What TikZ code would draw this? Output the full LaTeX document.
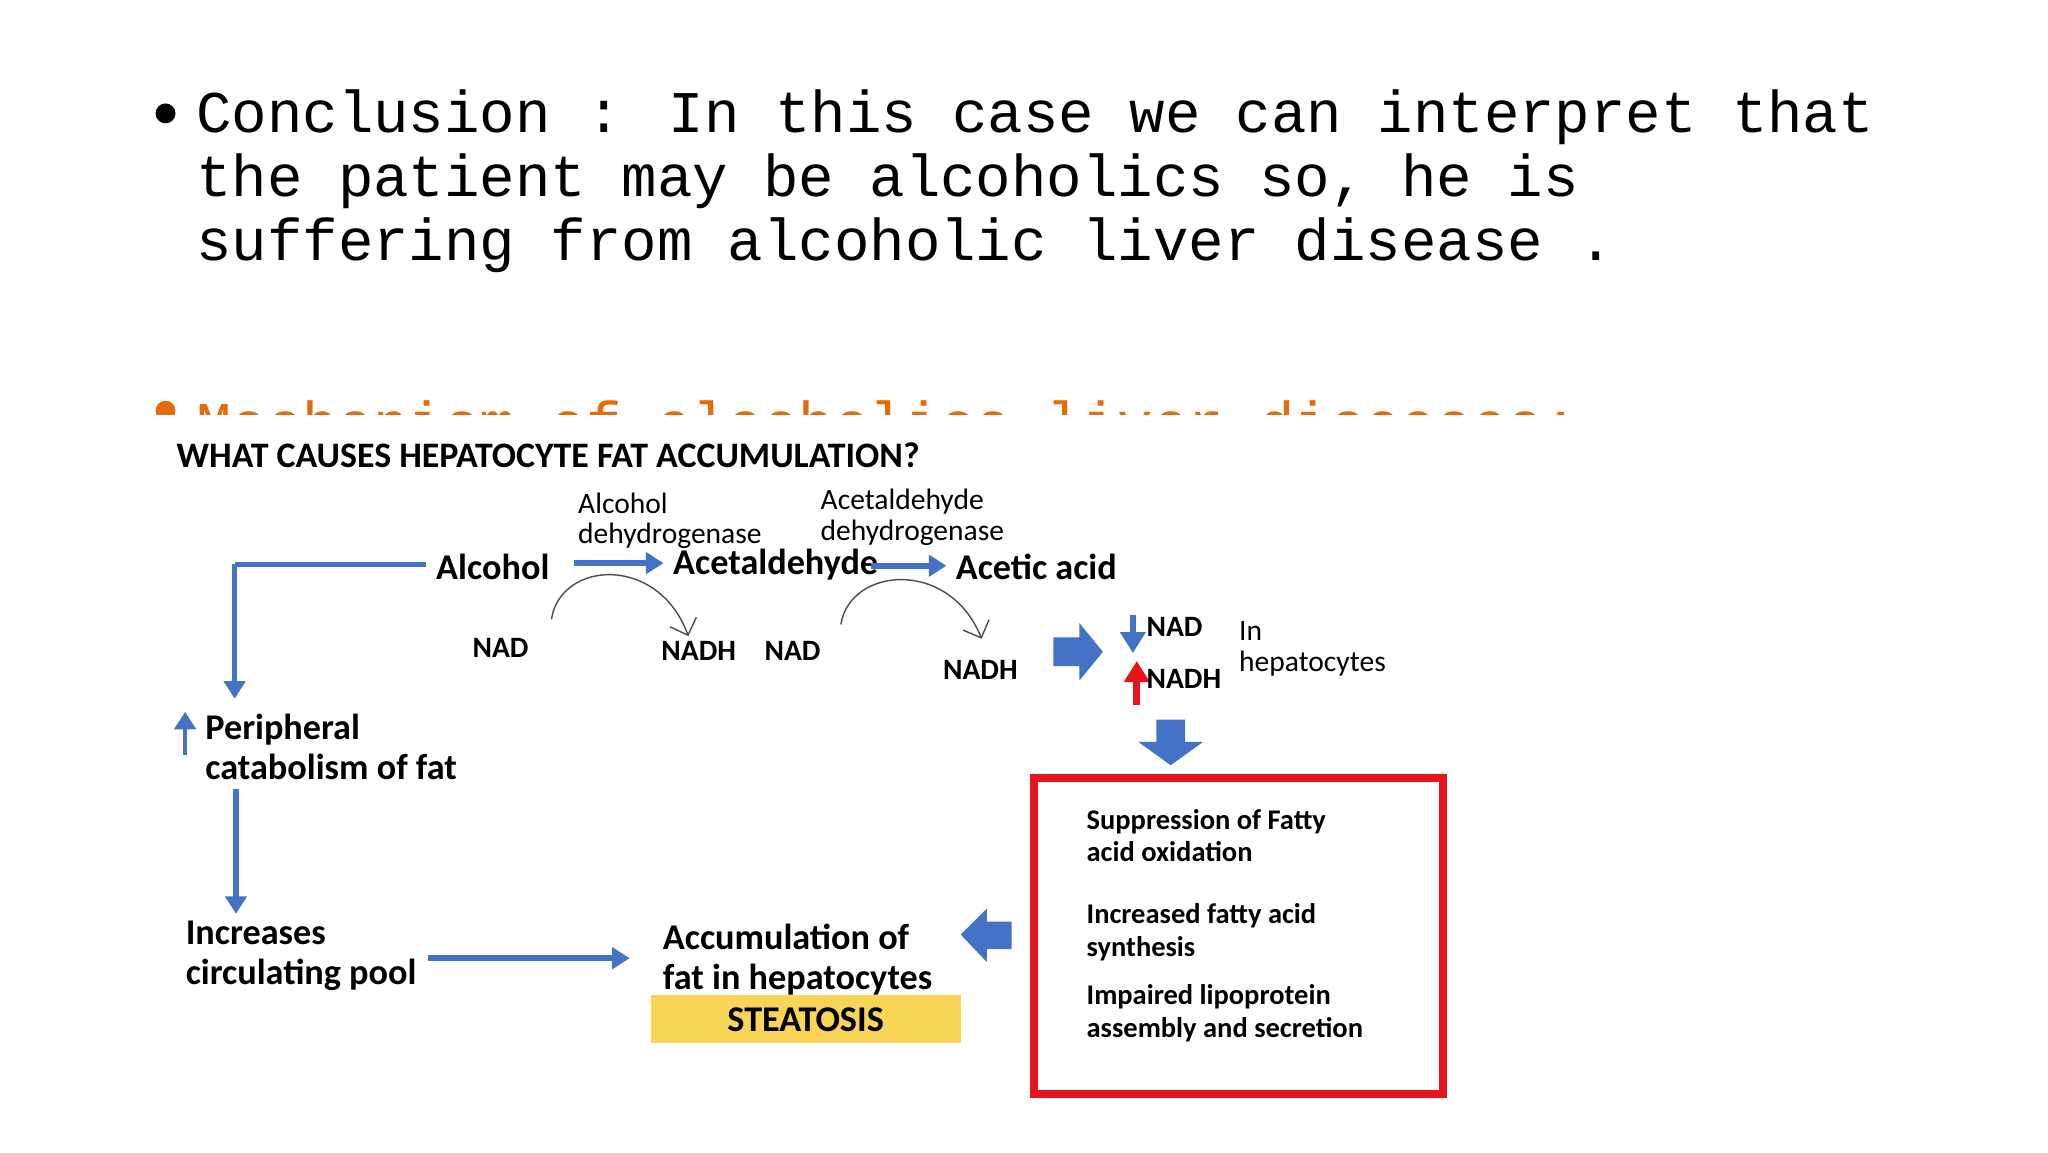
\documentclass[tikz,border=0pt]{standalone}
\usepackage{fontspec}
\setmainfont{Carlito}
\newfontfamily\monof{Liberation Mono}
\usetikzlibrary{arrows.meta,shapes.arrows}
\definecolor{bl}{HTML}{4472C4}
\definecolor{org}{HTML}{E46C0A}
\definecolor{yel}{HTML}{F8D557}
\definecolor{rd}{HTML}{E8141B}
\begin{document}
\begin{tikzpicture}[x=0.013036cm,y=-0.013036cm,
  mono/.style={font=\monof\fontsize{16.8}{20}\selectfont,anchor=west,inner sep=0},
  bt/.style={font=\bfseries\fontsize{10.3}{12}\selectfont,inner sep=0},
  bt2/.style={font=\bfseries\fontsize{10.3}{11.3}\selectfont,inner sep=0,anchor=west,align=left},
  st/.style={font=\fontsize{8.4}{10}\selectfont,inner sep=0,anchor=west},
  sb/.style={font=\bfseries\fontsize{8.4}{10}\selectfont,inner sep=0},
  bx/.style={font=\bfseries\fontsize{8.1}{9.3}\selectfont,inner sep=0,anchor=west,align=left},
  bline/.style={draw=bl,line width=1.6pt},
  barr/.style={bline,-{Triangle[length=5pt,width=6pt]}},
  thin/.style={draw=black!70,line width=0.4pt,-{Straight Barb[length=4pt]}},
  blk/.style={fill=bl,draw=none}]
\useasboundingbox (0,0) rectangle (1571,883.7);
\fill[white] (0,0) rectangle (1571,883.7);
% header
\node[circle,fill=black,inner sep=2pt] (b1) at (127,87) {};
\node[mono] (c1) at (150,90) {Conclusion : In this case we can interpret that};
\node[mono] (c2) at (150,139) {the patient may be alcoholics so, he is};
\node[mono] (c3) at (150,188) {suffering from alcoholic liver disease .};
\begin{scope}
\clip (0,250) rectangle (1571,318);
\node[circle,fill=org,inner sep=2pt] (b2) at (127,315) {};
\node[mono,text=org] (mech) at (150,324) {Mechanism of alcoholics liver diseases:};
\end{scope}
% title
\node[font=\bfseries\fontsize{10.2}{12}\selectfont,inner sep=0,anchor=west] (ttl) at (135,349) {WHAT CAUSES HEPATOCYTE FAT ACCUMULATION?};
% top row
\node[bt] (alc) at (378,435) {Alcohol};
\node[bt] (ald) at (595,433) {Acetaldehyde};
\node[bt] (aca) at (795,435) {Acetic acid};
\node[st] (e1a) at (443,386) {Alcohol};
\node[st] (e1b) at (443,411) {dehydrogenase};
\node[st] (e2a) at (629,385) {Acetaldehyde};
\node[st] (e2b) at (629,409) {dehydrogenase};
\coordinate (a1s) at (440,432); \coordinate (a1e) at (509,432);
\coordinate (a2s) at (668,434); \coordinate (a2e) at (726,434);
\draw[barr] (a1s) -- (a1e);
\draw[barr] (a2s) -- (a2e);
\node[sb] (nad1) at (384,497) {NAD};
\node[sb] (nadh1) at (536,499) {NADH};
\node[sb] (nad2) at (608,499) {NAD};
\node[sb] (nadh2) at (752,514) {NADH};
\coordinate (k1s) at (423,475); \coordinate (k1e) at (528,488);
\coordinate (k2s) at (645,479); \coordinate (k2e) at (753,490);
\draw[thin] (k1s) .. controls (430,430) and (505,425) .. (k1e);
\draw[thin] (k2s) .. controls (652,435) and (728,428) .. (k2e);
% block arrow right
\fill[blk] (808,489) -- (828,489) -- (828,478) -- (846,500) -- (828,522) -- (828,511) -- (808,511) -- cycle;
\coordinate (nd1) at (869,472); \coordinate (nd2) at (869,501);
\draw[draw=bl,line width=1.8pt,-{Triangle[length=6pt,width=7pt]}] (nd1) -- (nd2);
\coordinate (nu1) at (872,541); \coordinate (nu2) at (872,507);
\draw[draw=rd,line width=2pt,-{Triangle[length=6pt,width=7pt]}] (nu1) -- (nu2);
\node[sb,anchor=west] (nadr) at (879,481) {NAD};
\node[sb,anchor=west] (nadhr) at (879,521) {NADH};
\node[st] (in) at (950,484) {In};
\node[st] (hep) at (950,509) {hepatocytes};
% block arrow down
\fill[blk] (887,552) -- (909,552) -- (909,569) -- (923,569) -- (898,587) -- (873,569) -- (887,569) -- cycle;
% red box
\draw[draw=rd,line width=2.3pt] (793,597) rectangle (1107,839);
\node[bx] (s1) at (833,641) {Suppression of Fatty\\acid oxidation};
\node[bx] (s2) at (833,715) {Increased fatty acid\\synthesis};
\node[bx] (s3) at (833,777) {Impaired lipoprotein\\assembly and secretion};
% block arrow left
\fill[blk] (776,707) -- (757,707) -- (757,697) -- (737,717) -- (757,738) -- (757,728) -- (776,728) -- cycle;
% accumulation
\node[bt2] (acc) at (508,736) {Accumulation of\\fat in hepatocytes};
\fill[yel] (499,763) rectangle (737,800);
\node[bt] (ste) at (618,782) {STEATOSIS};
% left side
\coordinate (L0) at (180,433);
\coordinate (L1) at (180,536);
\draw[bline] (alc.west)++(-7,-2) coordinate (alw) -- (L0);
\draw[barr] (L0) -- (L1);
\node[bt2] (per) at (157,573) {Peripheral\\catabolism of fat};
\coordinate (pu1) at (142,579); \coordinate (pu2) at (142,546);
\draw[barr,line width=1.3pt] (pu1) -- (pu2);
\coordinate (m1) at (181,605); \coordinate (m2) at (181,701);
\draw[barr] (m1) -- (m2);
\node[bt2] (inc) at (142,733) {Increases\\circulating pool};
\coordinate (h1) at (328,735); \coordinate (h2) at (483,735);
\draw[barr] (h1) -- (h2);
\end{tikzpicture}
\end{document}
